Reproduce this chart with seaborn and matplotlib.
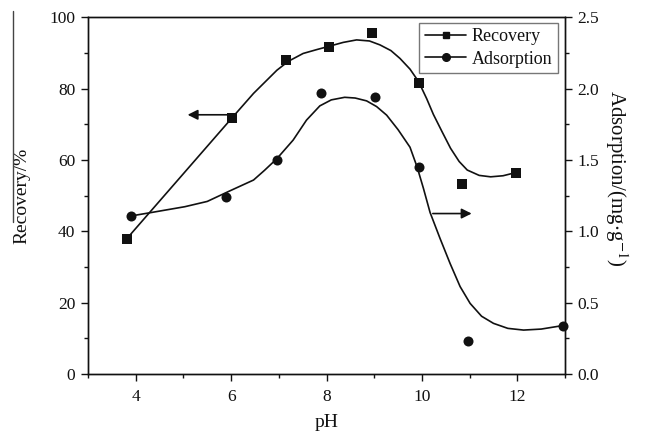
import matplotlib
matplotlib.use("Agg")
import numpy as np
import pandas as pd
import matplotlib.pyplot as plt
import seaborn as sns
from matplotlib.lines import Line2D
from matplotlib.ticker import MultipleLocator

# ----------------- Dados -----------------
ph_rec = [3.81, 6.01, 7.15, 8.05, 8.95, 9.93, 10.85, 11.97]
recovery = [37.9, 71.7, 88.2, 91.6, 95.7, 81.7, 53.3, 56.5]

ph_ads = [3.90, 5.90, 6.97, 7.89, 9.02, 9.93, 10.96, 12.96]
adsorption = [1.11, 1.24, 1.50, 1.97, 1.94, 1.45, 0.23, 0.34]

# curvas ajustadas
ph_rec_fit = [3.81, 6.01, 6.47, 6.96, 7.2, 7.51, 7.8, 8.05, 8.35, 8.63, 8.9, 9.12,
              9.35, 9.54, 9.75, 9.93, 10.1, 10.24, 10.42, 10.6, 10.78, 10.95,
              11.2, 11.44, 11.7, 11.97]
rec_fit = [37.9, 71.7, 78.7, 85.2, 87.7, 89.9, 91.0, 91.9, 93.0, 93.7, 93.4, 92.3,
           90.7, 88.5, 85.5, 82.0, 77.2, 72.8, 68.0, 63.3, 59.6, 57.2,
           55.7, 55.3, 55.6, 56.5]

ph_ads_fit = [3.90, 4.34, 5.03, 5.5, 5.98, 6.47, 6.7, 6.96, 7.3, 7.58, 7.86,
              8.1, 8.38, 8.6, 8.84, 9.05, 9.26, 9.5, 9.75, 9.9, 10.03, 10.17,
              10.38, 10.59, 10.8, 11.01, 11.25, 11.5, 11.8, 12.13, 12.5, 12.96]
ads_fit = [1.108, 1.133, 1.173, 1.210, 1.285, 1.360, 1.428, 1.510, 1.640, 1.780,
           1.880, 1.922, 1.940, 1.935, 1.915, 1.875, 1.815, 1.713, 1.590,
           1.450, 1.303, 1.133, 0.950, 0.775, 0.613, 0.495, 0.405, 0.355, 0.320,
           0.308, 0.315, 0.340]

df_rec = pd.DataFrame({"pH": ph_rec, "Recovery": recovery})
df_ads = pd.DataFrame({"pH": ph_ads, "Adsorption": adsorption})
df_rec_fit = pd.DataFrame({"pH": ph_rec_fit, "Recovery": rec_fit})
df_ads_fit = pd.DataFrame({"pH": ph_ads_fit, "Adsorption": ads_fit})

# ----------------- Estilo -----------------
sns.set_style("ticks")
plt.rcParams["font.family"] = ["Liberation Serif", "DejaVu Serif"]
plt.rcParams["mathtext.fontset"] = "stix"
plt.rcParams["axes.linewidth"] = 1.0
cor = "#111111"

fig = plt.figure(figsize=(6.48, 4.36), dpi=100)
ax = fig.add_axes([0.1358, 0.1422, 0.7362, 0.8178])
ax2 = ax.twinx()

# ----------------- Recovery (eixo esquerdo) -----------------
sns.lineplot(data=df_rec_fit, x="pH", y="Recovery", sort=False, ax=ax,
             color=cor, lw=1.2)
sns.scatterplot(data=df_rec, x="pH", y="Recovery", ax=ax, marker="s",
                s=46, color=cor, edgecolor=cor, linewidth=0, zorder=3)

# ----------------- Adsorption (eixo direito) -----------------
sns.lineplot(data=df_ads_fit, x="pH", y="Adsorption", sort=False, ax=ax2,
             color=cor, lw=1.2)
sns.scatterplot(data=df_ads, x="pH", y="Adsorption", ax=ax2, marker="o",
                s=52, color=cor, edgecolor=cor, linewidth=0, zorder=3,
                clip_on=False)

# ----------------- Eixos -----------------
ax.set_xlim(3, 13)
ax.set_ylim(0, 100)
ax2.set_ylim(0, 2.5)
ax.xaxis.set_minor_locator(MultipleLocator(1))
ax.set_xticks([4, 6, 8, 10, 12])
ax.yaxis.set_major_locator(MultipleLocator(20))
ax.yaxis.set_minor_locator(MultipleLocator(10))
ax2.yaxis.set_minor_locator(MultipleLocator(0.25))
ax2.set_yticks([0.0, 0.5, 1.0, 1.5, 2.0, 2.5])
ax2.set_yticklabels(["0.0", "0.5", "1.0", "1.5", "2.0", "2.5"])

for a in (ax, ax2):
    a.tick_params(which="major", direction="out", length=5, width=1.0,
                  labelsize=12.5, colors=cor, pad=4)
    a.tick_params(which="minor", direction="out", length=3, width=1.0, colors=cor)
    for s in a.spines.values():
        s.set_visible(True)
        s.set_color(cor)
ax.tick_params(axis="x", which="both", top=False, pad=6)

ax.set_xlabel("pH", fontsize=14, color=cor, labelpad=6)
ax.set_ylabel("Recovery/%", fontsize=14, color=cor, labelpad=14)
ax2.set_ylabel(r"Adsorption/(mg$\cdot$g$^{-1}$)", fontsize=15, color=cor,
               rotation=270, labelpad=20)
ax2.yaxis.set_label_coords(1.135, 0.55)

# ----------------- Setas -----------------
ax.annotate("", xy=(5.03, 72.7), xytext=(6.01, 72.7),
            arrowprops=dict(arrowstyle="-|>", color=cor, lw=1.2, mutation_scale=15))
ax2.annotate("", xy=(11.1, 1.125), xytext=(10.17, 1.125),
             arrowprops=dict(arrowstyle="-|>", color=cor, lw=1.2, mutation_scale=15))

# ----------------- Legenda -----------------
handles = [
    Line2D([], [], color=cor, lw=1.2, marker="s", markersize=5),
    Line2D([], [], color=cor, lw=1.2, marker="o", markersize=5.5),
]
leg = ax2.legend(handles, ["Recovery", "Adsorption"], loc="upper right",
                 fontsize=13, frameon=True, fancybox=False, handlelength=2.3,
                 handletextpad=0.3, borderpad=0.3, labelspacing=0.3,
                 borderaxespad=0, bbox_to_anchor=(0.985, 0.985))
leg.get_frame().set_edgecolor("#555555")
leg.get_frame().set_linewidth(1.0)
for t in leg.get_texts():
    t.set_color(cor)

# linha vertical que aparece no canto esquerdo da figura original
fig.add_artist(Line2D([0.02, 0.02], [0.975, 0.491], color="#444444", lw=1.0))

fig.savefig("out.png", dpi=100)
